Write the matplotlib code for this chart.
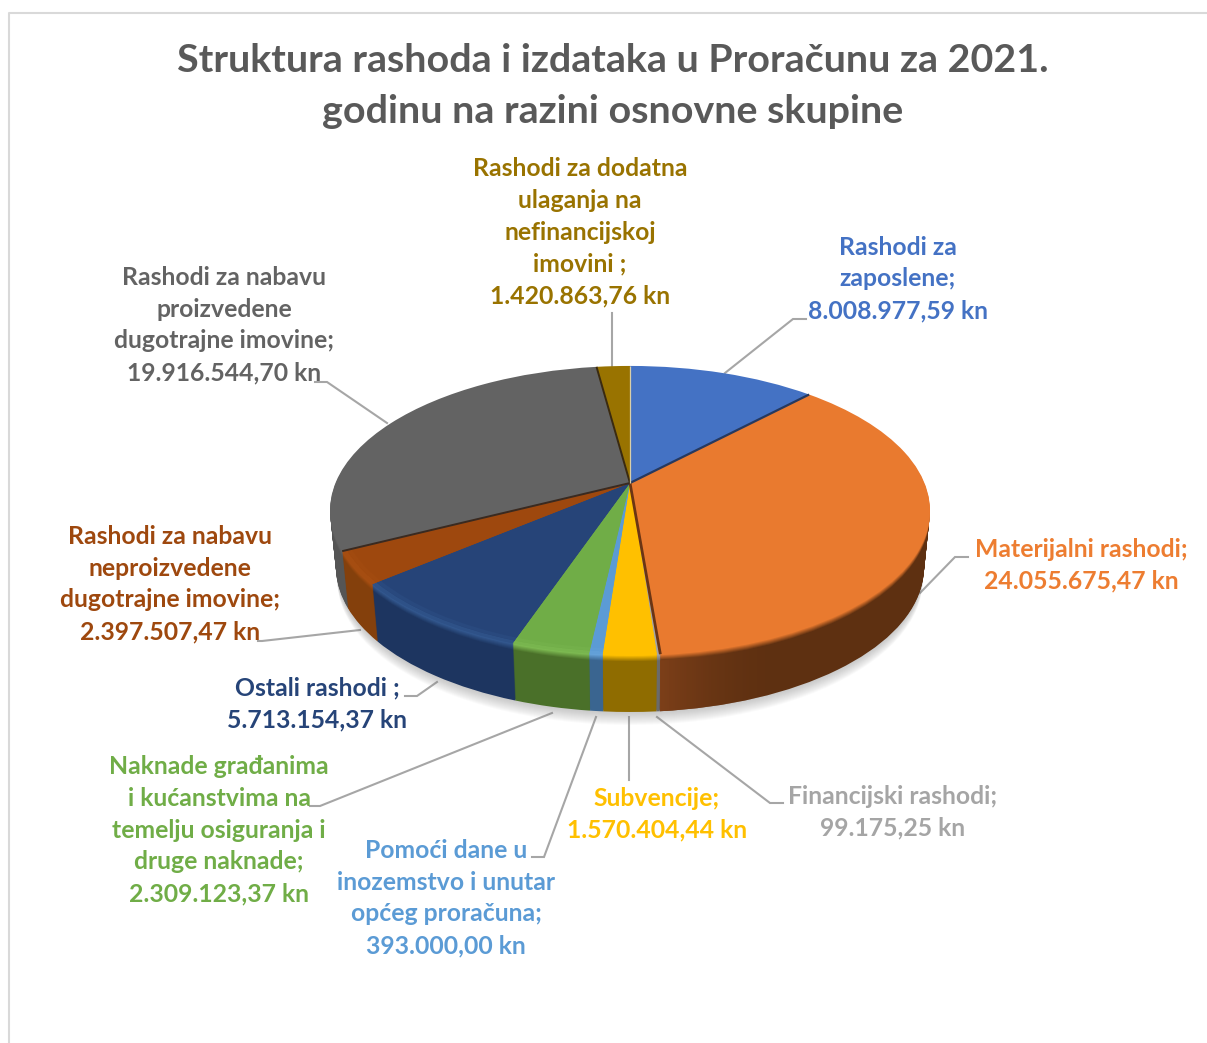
import numpy as np
import matplotlib
matplotlib.use("Agg")
import matplotlib.pyplot as plt
from matplotlib.colors import LinearSegmentedColormap, to_rgb
from matplotlib.transforms import Affine2D, Transform

names = [
    "Rashodi za\nzaposlene;\n8.008.977,59 kn",
    "Materijalni rashodi;\n24.055.675,47 kn",
    "Financijski rashodi;\n99.175,25 kn",
    "Subvencije;\n1.570.404,44 kn",
    "Pomoći dane u\ninozemstvo i unutar\nopćeg proračuna;\n393.000,00 kn",
    "Naknade građanima\ni kućanstvima na\ntemelju osiguranja i\ndruge naknade;\n2.309.123,37 kn",
    "Ostali rashodi ;\n5.713.154,37 kn",
    "Rashodi za nabavu\nneproizvedene\ndugotrajne imovine;\n2.397.507,47 kn",
    "Rashodi za nabavu\nproizvedene\ndugotrajne imovine;\n19.916.544,70 kn",
    "Rashodi za dodatna\nulaganja na\nnefinancijskoj\nimovini ;\n1.420.863,76 kn",
]
values = [8008977.59, 24055675.47, 99175.25, 1570404.44, 393000.00,
          2309123.37, 5713154.37, 2397507.47, 19916544.70, 1420863.76]
top_colors = ["#4472c4", "#e97a2f", "#a5a5a5", "#ffc000", "#5b9bd5",
              "#70ad47", "#264478", "#9e480e", "#636363", "#997300"]
side_colors = ["#2f5090", "#5e3011", "#6a6a6a", "#8f6c00", "#3a6590",
               "#4a7029", "#1d3560", "#84400c", "#555555", "#6b5000"]
rim_colors = ["#4472c4", "#e97a2f", "#a5a5a5", "#ffc000", "#66a3da",
              "#7dba52", "#33588f", "#a84f12", "#636363", "#997300"]
text_colors = ["#4472c4", "#ed7d31", "#a5a5a5", "#ffc000", "#5b9bd5",
               "#70ad47", "#264478", "#9e480e", "#636363", "#997300"]
label_pos = [(898, 279), (1081, 565), (893, 812), (657, 814), (446, 898),
             (219, 830), (317, 704), (170, 584), (224, 325), (580, 232)]
leaders = [
    [(725, 373), (793, 319), (806, 319)],
    [(920, 593), (955, 557), (968, 557)],
    [(657, 717), (770, 803), (783, 803)],
    [(629, 717), (629, 780)],
    [(596, 717), (544, 857), (532, 857)],
    [(552, 713), (320, 806), (310, 806)],
    [(437, 682), (417, 696), (405, 696)],
    [(360, 630), (262, 641), (258, 641)],
    [(387, 423), (327, 382), (315, 382)],
    [(612, 367), (612, 313)],
]
title = "Struktura rashoda i izdataka u Proračunu za 2021.\ngodinu na razini osnovne skupine"

depth = 57


class Persp(Transform):
    # tilted disc: unit circle seen from the front, far side smaller
    input_dims = 2
    output_dims = 2
    is_affine = False
    has_inverse = False

    def transform_non_affine(self, xy):
        xy = np.asarray(xy, dtype=float)
        w = 1 + 0.19 * xy[:, 1]
        return np.column_stack((630 + 294.5 * xy[:, 0] / w, 483 - 139.3 * xy[:, 1] / w))


plt.rcParams["font.family"] = ["Lato", "DejaVu Sans"]
plt.rcParams["font.weight"] = "bold"

fig = plt.figure(figsize=(12.07, 10.43), dpi=100)
ax = fig.add_axes([0, 0, 1, 1])


def layer(k):
    sx = 1 - 0.02 * k / depth
    return Persp() + Affine2D().translate(-630, 0).scale(sx, 1).translate(630, k) + ax.transData


def blend(a, b, f):
    a = np.array(to_rgb(a))
    b = np.array(to_rgb(b))
    return tuple(a + (b - a) * f)


def draw_pie(k, colors, z):
    wedges, _ = ax.pie(values, colors=colors, startangle=90, counterclock=False)
    for w in wedges:
        w.set_transform(layer(k))
        w.set_zorder(z)
    return wedges


# soft shadow under the disc
for i, k in enumerate(range(depth + 13, depth, -1)):
    wedges, _ = ax.pie([1], colors=["#808080"], startangle=90)
    wedges[0].set_transform(layer(k))
    wedges[0].set_alpha(0.035)
    wedges[0].set_zorder(1 + i * 0.01)

# side wall, layer by layer from the bottom up
z = 2
bottom = None
for k in range(depth, 6, -1):
    w = draw_pie(k, side_colors, z)
    if bottom is None:
        bottom = w
    z += 0.01

# orange wall gets lighter towards the cut at the front
cmap = LinearSegmentedColormap.from_list("o", [(0.49, 0.25, 0.10, 1), (0.37, 0.19, 0.07, 0)])
im = ax.imshow(np.linspace(0, 1, 120).reshape(1, -1), cmap=cmap, extent=(660, 790, 725, 640),
               aspect="auto", zorder=z)
im.set_clip_path(bottom[1])
z += 0.01

# rim bevel: wall colour fades into a lighter rim, then the top
for k in range(6, 0, -1):
    f = (7 - k) / 6
    draw_pie(k, [blend(s, t, f) for s, t in zip(side_colors, rim_colors)], z)
    z += 0.01

# rim highlight melts into the top face
for r_k, f in [(0.985, 0.35), (0.97, 0.75)]:
    wedges, _ = ax.pie(values, colors=[blend(c, t, f) for c, t in zip(rim_colors, top_colors)],
                       startangle=90, counterclock=False, radius=r_k + 0.015)
    for w in wedges:
        w.set_transform(layer(0))
        w.set_zorder(z)
    z += 0.01
    wedges, _ = ax.pie(values, colors=top_colors, startangle=90, counterclock=False, radius=r_k)
    for w in wedges:
        w.set_transform(layer(0))
        w.set_zorder(z)
    z += 0.01

# dark cut lines between some slices
cum = np.cumsum(values) / np.sum(values) * 2 * np.pi
cuts = [(0, "#26395f", 1.6), (1, "#6b3514", 2.0), (7, "#3a2a20", 1.4),
        (8, "#3a2a10", 1.4), (9, "#d9cfa8", 0.9)]
for idx, col, lw in cuts:
    a = cum[idx]
    ax.plot([0, np.sin(a)], [0, np.cos(a)], color=col, lw=lw, transform=Persp() + ax.transData, zorder=z,
            solid_capstyle="butt")

for pts in leaders:
    xs, ys = zip(*pts)
    ax.plot(xs, ys, color="#a6a6a6", lw=1.5, zorder=1, solid_joinstyle="miter")

for name, (x, y), col in zip(names, label_pos, text_colors):
    ax.text(x, y, name, color=col, fontsize=17.8, ha="center", va="center", linespacing=1.47, zorder=6)

ax.text(613, 86, title, color="#595959", fontsize=28.4, ha="center", va="center", linespacing=1.52, zorder=6)

# chart frame
ax.plot([9, 9, 1207], [1043, 13, 13], color="#d9d9d9", lw=1.5, zorder=0.5)

ax.set_aspect("auto")
ax.set_xlim(0, 1207)
ax.set_ylim(1043, 0)
ax.axis("off")
fig.savefig("out.png", dpi=100, facecolor="white")
